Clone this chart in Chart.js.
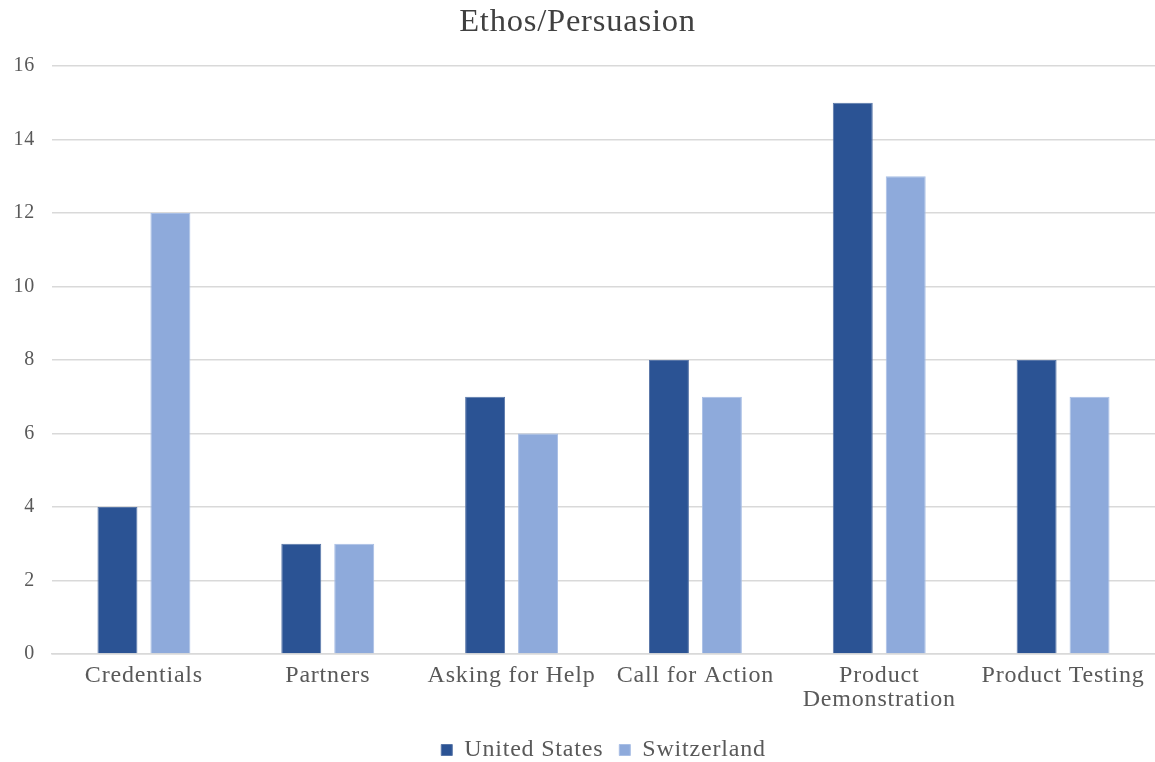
<!DOCTYPE html>
<html>
<head>
<meta charset="utf-8">
<script src="https://cdn.jsdelivr.net/npm/chart.js@4/dist/chart.umd.min.js"></script>
<style>
  html, body { margin: 0; padding: 0; background: #ffffff; }
  #wrap { width: 1155px; height: 762px; position: relative; }
</style>
</head>
<body>
<div id="wrap"><canvas id="chart"></canvas></div>
<script>
// Ethos/Persuasion technique counts by country
const categories = [
  "Credentials",
  "Partners",
  "Asking for Help",
  "Call for Action",
  ["Product", "Demonstration"],
  "Product Testing"
];
const unitedStates = [4, 3, 7, 8, 15, 8];
const switzerland = [12, 3, 6, 7, 13, 7];
const yTicks = [0, 2, 4, 6, 8, 10, 12, 14, 16];

const serif = "'Liberation Serif', 'DejaVu Serif', serif";
const textGray = "#595959";

// Slightly loose tracking for all chart text
const tracking = {
  id: "tracking",
  beforeUpdate(chart) { chart.ctx.letterSpacing = "0.8px"; },
  beforeDraw(chart) { chart.ctx.letterSpacing = "0.8px"; }
};

new Chart(document.getElementById("chart"), {
  type: "bar",
  data: {
    labels: categories,
    datasets: [
      {
        label: "United States",
        data: unitedStates,
        backgroundColor: "#2B5394",
        borderColor: "#5876A8",
        borderWidth: 1,
        categoryPercentage: 0.576,
        barPercentage: 0.755
      },
      {
        label: "Switzerland",
        data: switzerland,
        backgroundColor: "#8EAADB",
        borderColor: "#A9BFE5",
        borderWidth: 1,
        categoryPercentage: 0.576,
        barPercentage: 0.755
      }
    ]
  },
  plugins: [tracking],
  options: {
    responsive: true,
    maintainAspectRatio: false,
    animation: false,
    layout: { padding: { left: 0, right: 0, top: 0, bottom: -10 } },
    plugins: {
      title: {
        display: true,
        text: "Ethos/Persuasion",
        color: "#404040",
        font: { family: serif, size: 32.5, weight: "normal" },
        padding: { top: 3, bottom: 24 }
      },
      legend: {
        position: "bottom",
        fullSize: false,
        labels: {
          color: textGray,
          font: { family: serif, size: 24 },
          boxWidth: 11,
          boxHeight: 11,
          padding: 16
        }
      },
      tooltip: { enabled: false }
    },
    scales: {
      x: {
        grid: { display: false, drawTicks: false },
        border: { display: true, color: "#d9d9d9", width: 1.5 },
        ticks: {
          color: textGray,
          font: { family: serif, size: 24, lineHeight: 1.0 },
          padding: 10,
          maxRotation: 0,
          autoSkip: false
        }
      },
      y: {
        min: 0,
        max: 16,
        afterFit(scale) { scale.width = 52; },
        afterBuildTicks(scale) { scale.ticks = yTicks.map(v => ({ value: v })); },
        grid: { color: "#d9d9d9", lineWidth: 1.5, drawTicks: false },
        border: { display: false },
        ticks: {
          color: textGray,
          font: { family: serif, size: 20 },
          padding: 17
        }
      }
    }
  }
});
</script>
</body>
</html>
